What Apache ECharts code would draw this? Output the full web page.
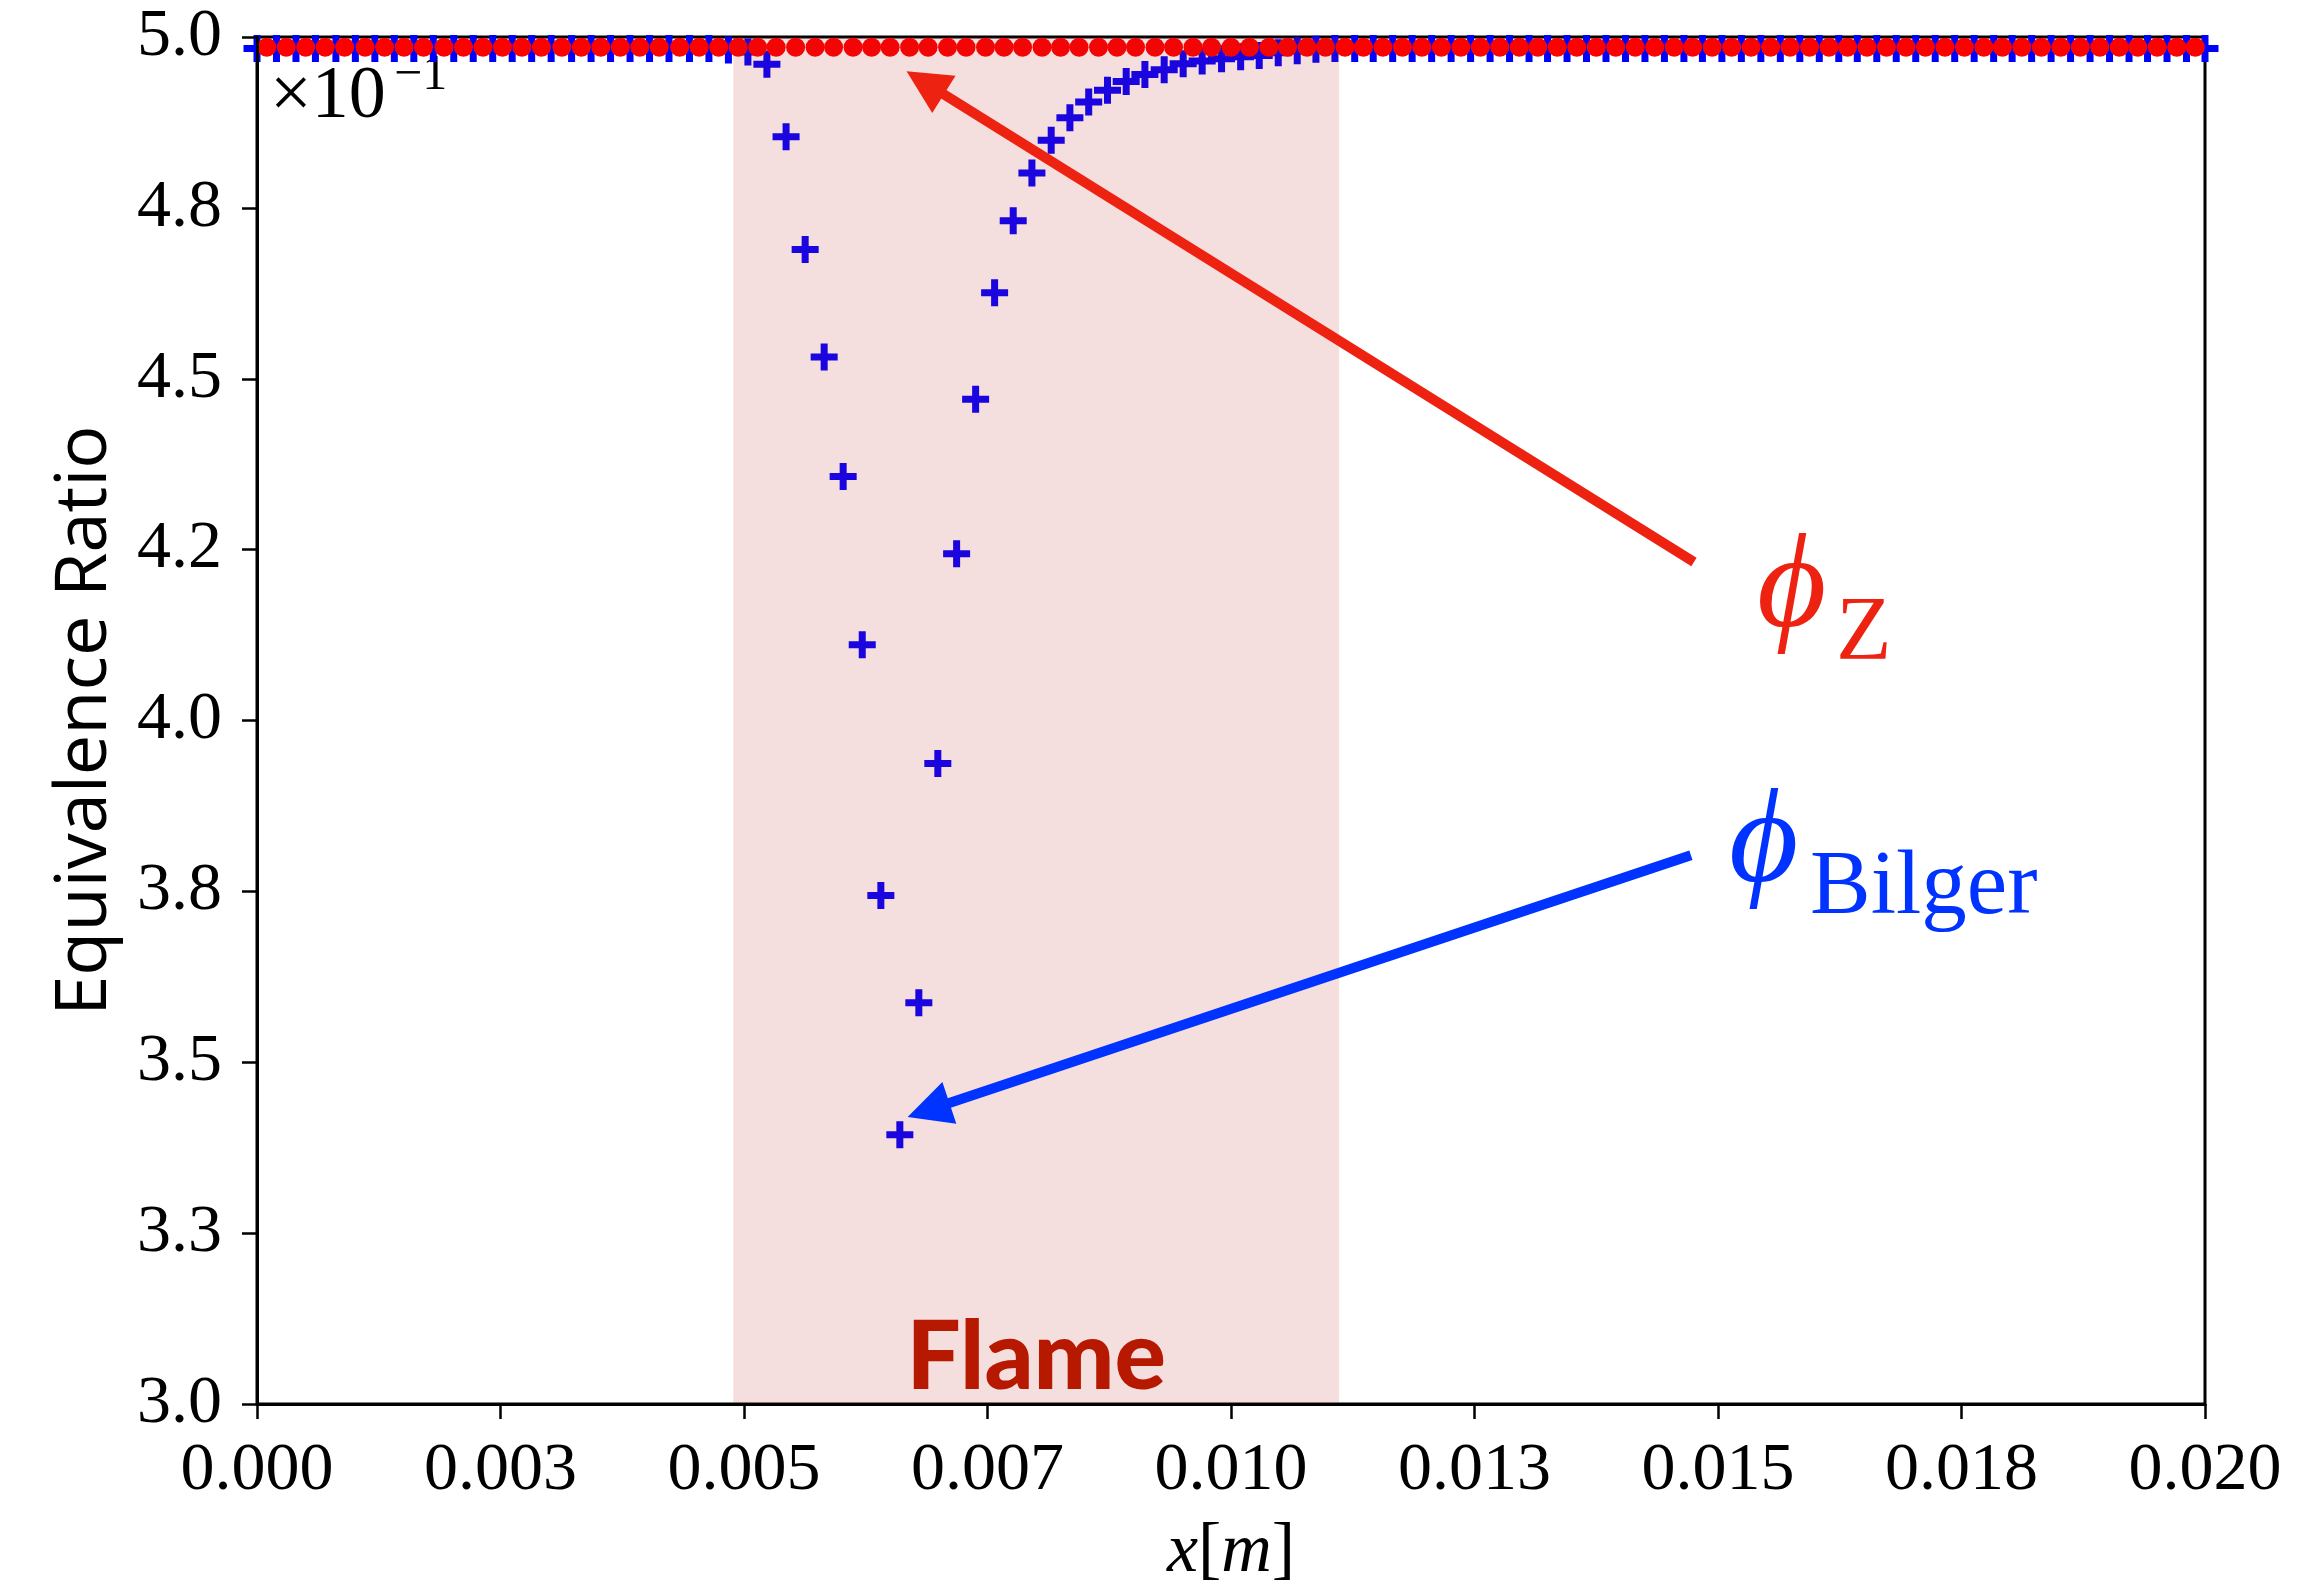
<!DOCTYPE html>
<html>
<head>
<meta charset="utf-8">
<script src="https://cdn.jsdelivr.net/npm/echarts@6/dist/echarts.min.js"></script>
<style>
  html, body { margin: 0; padding: 0; background: #ffffff; }
  #chart { width: 2320px; height: 1586px; }
</style>
</head>
<body>
<div id="chart"></div>
<script>
// Grid nodes x [m] and phi_Bilger values (axis units, x10^-1)
const bilgerX = [
  0.0, 0.0002, 0.0004, 0.0006, 0.00081, 0.00101, 0.00121, 0.00141, 0.00161, 0.00181,
  0.00202, 0.00222, 0.00242, 0.00262, 0.00282, 0.00302, 0.00323, 0.00343, 0.00363, 0.00383,
  0.00403, 0.00423, 0.00444, 0.00464, 0.00484, 0.00504,
  0.005235, 0.005432, 0.005628, 0.005823, 0.006018, 0.006214, 0.006405, 0.0066, 0.006795, 0.00699,
  0.007183, 0.007378, 0.007573, 0.007764, 0.007956, 0.008154, 0.008346, 0.008539, 0.008732, 0.008924,
  0.009116, 0.009314, 0.009509, 0.009704, 0.009903, 0.010099, 0.01029, 0.010485, 0.01068, 0.010872,
  0.011067,
  0.01127, 0.01146, 0.01166, 0.01186, 0.01206, 0.01226, 0.01246, 0.01266, 0.01286, 0.01306,
  0.01325, 0.01345, 0.01365, 0.01385, 0.01405, 0.01425, 0.01445, 0.01465, 0.01484, 0.01504,
  0.01524, 0.01544, 0.01564, 0.01584, 0.01604, 0.01624, 0.01643, 0.01663, 0.01683, 0.01703,
  0.01723, 0.01743, 0.01763, 0.01783, 0.01802, 0.01822, 0.01842, 0.01862, 0.01882, 0.01902,
  0.01922, 0.01941, 0.01961, 0.01981, 0.02
];
const bilgerY = [
  4.983, 4.983, 4.983, 4.983, 4.983, 4.983, 4.983, 4.983, 4.983, 4.983,
  4.983, 4.983, 4.983, 4.983, 4.983, 4.983, 4.983, 4.983, 4.983, 4.983,
  4.983, 4.983, 4.983, 4.983, 4.981, 4.978,
  4.960, 4.854, 4.689, 4.532, 4.357, 4.111, 3.744, 3.394, 3.587, 3.937,
  4.244, 4.470, 4.626, 4.731, 4.801, 4.849, 4.882, 4.905, 4.922, 4.935,
  4.945, 4.952, 4.961, 4.965, 4.968, 4.971, 4.973, 4.977, 4.980, 4.982,
  4.983,
  4.983, 4.983, 4.983, 4.983, 4.983, 4.983, 4.983, 4.983, 4.983, 4.983,
  4.983, 4.983, 4.983, 4.983, 4.983, 4.983, 4.983, 4.983, 4.983, 4.983,
  4.983, 4.983, 4.983, 4.983, 4.983, 4.983, 4.983, 4.983, 4.983, 4.983,
  4.983, 4.983, 4.983, 4.983, 4.983, 4.983, 4.983, 4.983, 4.983, 4.983,
  4.983, 4.983, 4.983, 4.983, 4.983
];

// phi_Z, sampled at the cell midpoints
const zX = [
  0.0001, 0.0003, 0.0005, 0.0007, 0.0009, 0.00111, 0.00131, 0.00151, 0.00171, 0.00192,
  0.00212, 0.00232, 0.00252, 0.00272, 0.00292, 0.00313, 0.00333, 0.00353, 0.00373, 0.00393,
  0.00413, 0.00434, 0.00454, 0.00474, 0.00494, 0.00514, 0.00533, 0.00553, 0.00573, 0.00592,
  0.00612, 0.00631, 0.0065, 0.0067, 0.00689, 0.00709, 0.00728, 0.00748, 0.00767, 0.00786,
  0.00806, 0.00825, 0.00844, 0.00864, 0.00883, 0.00902, 0.00922, 0.00941, 0.00961, 0.0098,
  0.01, 0.01019, 0.01039, 0.01058, 0.01078, 0.01097, 0.01117, 0.01136, 0.01156, 0.01176,
  0.01196, 0.01216, 0.01236, 0.01256, 0.01276, 0.01296, 0.01315, 0.01335, 0.01355, 0.01375,
  0.01395, 0.01415, 0.01435, 0.01455, 0.01474, 0.01494, 0.01514, 0.01534, 0.01554, 0.01574,
  0.01594, 0.01614, 0.01633, 0.01653, 0.01673, 0.01693, 0.01713, 0.01733, 0.01753, 0.01773,
  0.01792, 0.01812, 0.01832, 0.01852, 0.01872, 0.01892, 0.01912, 0.01931, 0.01951, 0.01971,
  0.0199
];
const zY = [
  4.985, 4.985, 4.985, 4.985, 4.985, 4.985, 4.985, 4.985, 4.985, 4.985,
  4.985, 4.985, 4.985, 4.985, 4.985, 4.985, 4.985, 4.985, 4.985, 4.985,
  4.985, 4.985, 4.985, 4.985, 4.985, 4.985, 4.985, 4.985, 4.985, 4.985,
  4.985, 4.985, 4.985, 4.985, 4.985, 4.985, 4.985, 4.985, 4.985, 4.985,
  4.985, 4.985, 4.985, 4.985, 4.985, 4.985, 4.985, 4.985, 4.985, 4.985,
  4.985, 4.985, 4.985, 4.985, 4.985, 4.985, 4.985, 4.985, 4.985, 4.985,
  4.985, 4.985, 4.985, 4.985, 4.985, 4.985, 4.985, 4.985, 4.985, 4.985,
  4.985, 4.985, 4.985, 4.985, 4.985, 4.985, 4.985, 4.985, 4.985, 4.985,
  4.985, 4.985, 4.985, 4.985, 4.985, 4.985, 4.985, 4.985, 4.985, 4.985,
  4.985, 4.985, 4.985, 4.985, 4.985, 4.985, 4.985, 4.985, 4.985, 4.985,
  4.985
];

// Tick labels
const xTickLabels = ['0.000', '0.003', '0.005', '0.007', '0.010', '0.013', '0.015', '0.018', '0.020'];
const yTickLabels = ['3.0', '3.3', '3.5', '3.8', '4.0', '4.2', '4.5', '4.8', '5.0'];

// Flame zone [x start, x end] in m
const flameZone = [0.00489, 0.01111];

// Annotation arrows: [tail x, tail y, tip x, tip y]
const arrowZ = [0.014753, 4.232, 0.006669, 4.950];
const arrowBilger = [0.014722, 3.803, 0.00668, 3.420];

const serif = '"Liberation Serif", "DejaVu Serif", serif';
const RED = '#ee2211';
const BLUE = '#0033ff';
const arrowColors = [RED, BLUE];
const plusPath = 'path://M10,0H17V10H27V17H17V27H10V17H0V10H10Z';

const chart = echarts.init(document.getElementById('chart'), null, { renderer: 'canvas' });

const option = {
  animation: false,
  backgroundColor: '#ffffff',
  grid: {
    left: 257, right: 115, top: 37, bottom: 182,
    containLabel: false, outerBoundsMode: 'none',
    show: true, borderColor: '#000', borderWidth: 3, backgroundColor: 'transparent'
  },
  xAxis: {
    type: 'value', min: 0, max: 0.02, interval: 0.0025, z: 10,
    axisLine: { lineStyle: { color: '#000', width: 3 } },
    axisTick: { length: 15, lineStyle: { color: '#000', width: 2.5 } },
    splitLine: { show: false },
    axisLabel: {
      formatter: v => xTickLabels[Math.round(v / 0.0025)],
      fontFamily: serif, fontSize: 68, color: '#000', margin: 33
    },
    name: '{i|x}[{i|m}]',
    nameLocation: 'middle',
    nameGap: 114,
    nameTextStyle: {
      fontFamily: serif, fontSize: 70, color: '#000',
      rich: { i: { fontFamily: serif, fontStyle: 'italic', fontSize: 70, color: '#000' } }
    }
  },
  yAxis: {
    type: 'value', min: 3.0, max: 5.0, interval: 0.25, z: 10,
    axisLine: { lineStyle: { color: '#000', width: 3 } },
    axisTick: { length: 15, lineStyle: { color: '#000', width: 2.5 } },
    splitLine: { show: false },
    axisLabel: {
      formatter: v => yTickLabels[Math.round((v - 3.0) / 0.25)],
      fontFamily: serif, fontSize: 68, color: '#000', margin: 35
    },
    name: 'Equivalence Ratio',
    nameLocation: 'middle',
    nameRotate: 90,
    nameGap: 136,
    nameTextStyle: { fontFamily: '"Open Sans", sans-serif', fontSize: 72, color: '#000' }
  },
  series: [
    {
      name: 'phi_Bilger', type: 'scatter', z: 2,
      symbol: plusPath, symbolSize: 27,
      itemStyle: { color: '#0000ff', opacity: 1 },
      data: bilgerX.map((x, i) => [x, bilgerY[i]])
    },
    {
      name: 'phi_Z', type: 'scatter', z: 3,
      symbol: 'circle', symbolSize: 19,
      itemStyle: { color: '#ff0000', opacity: 1 },
      data: zX.map((x, i) => [x, zY[i]])
    },
    {
      name: 'flame', type: 'custom', z: 4, silent: true,
      coordinateSystem: 'cartesian2d',
      data: [flameZone],
      renderItem: (params, api) => {
        const a = api.coord([api.value(0), 5.0]);
        const b = api.coord([api.value(1), 3.0]);
        return {
          type: 'group',
          children: [
            {
              type: 'rect',
              shape: { x: a[0], y: a[1], width: b[0] - a[0], height: b[1] - a[1] },
              style: { fill: 'rgba(178,34,34,0.15)' }
            },
            {
              type: 'text',
              style: {
                text: 'Flame', x: (a[0] + b[0]) / 2, y: b[1] - 46,
                fill: '#b71800', font: '900 96px Lato, "Open Sans", sans-serif',
                align: 'center', verticalAlign: 'middle'
              }
            }
          ]
        };
      }
    },
    {
      name: 'arrows', type: 'custom', z: 5, silent: true,
      coordinateSystem: 'cartesian2d',
      data: [arrowZ, arrowBilger],
      renderItem: (params, api) => {
        const t = api.coord([api.value(0), api.value(1)]);
        const h = api.coord([api.value(2), api.value(3)]);
        const dx = h[0] - t[0], dy = h[1] - t[1];
        const L = Math.hypot(dx, dy);
        const ux = dx / L, uy = dy / L;
        const headL = 44, headW = 44;
        const bx = h[0] - ux * headL, by = h[1] - uy * headL;
        const px = -uy, py = ux;
        const color = arrowColors[params.dataIndex];
        return {
          type: 'group',
          children: [
            {
              type: 'line',
              shape: { x1: t[0], y1: t[1], x2: bx + ux * 4, y2: by + uy * 4 },
              style: { stroke: color, lineWidth: 10 }
            },
            {
              type: 'polygon',
              shape: { points: [[h[0], h[1]], [bx + px * headW / 2, by + py * headW / 2], [bx - px * headW / 2, by - py * headW / 2]] },
              style: { fill: color }
            }
          ]
        };
      }
    }
  ],
  graphic: [
    { type: 'text', x: 270, y: 98, style: { text: '\u00d710', font: '74px ' + serif, fill: '#000', verticalAlign: 'middle' } },
    { type: 'text', x: 394, y: 76, style: { text: '\u22121', font: '50px ' + serif, fill: '#000', verticalAlign: 'middle' } },

    { type: 'text', x: 1757, y: 591, style: { text: '\u03d5', font: 'italic 134px ' + serif, fill: RED, verticalAlign: 'middle' } },
    { type: 'text', x: 1836, y: 635, style: { text: 'Z', font: '91px ' + serif, fill: RED, verticalAlign: 'middle' } },

    { type: 'text', x: 1729, y: 846, style: { text: '\u03d5', font: 'italic 134px ' + serif, fill: BLUE, verticalAlign: 'middle' } },
    { type: 'text', x: 1810, y: 889, style: { text: 'Bilger', font: '91px ' + serif, fill: BLUE, verticalAlign: 'middle' } }
  ]
};

chart.setOption(option);
</script>
</body>
</html>
